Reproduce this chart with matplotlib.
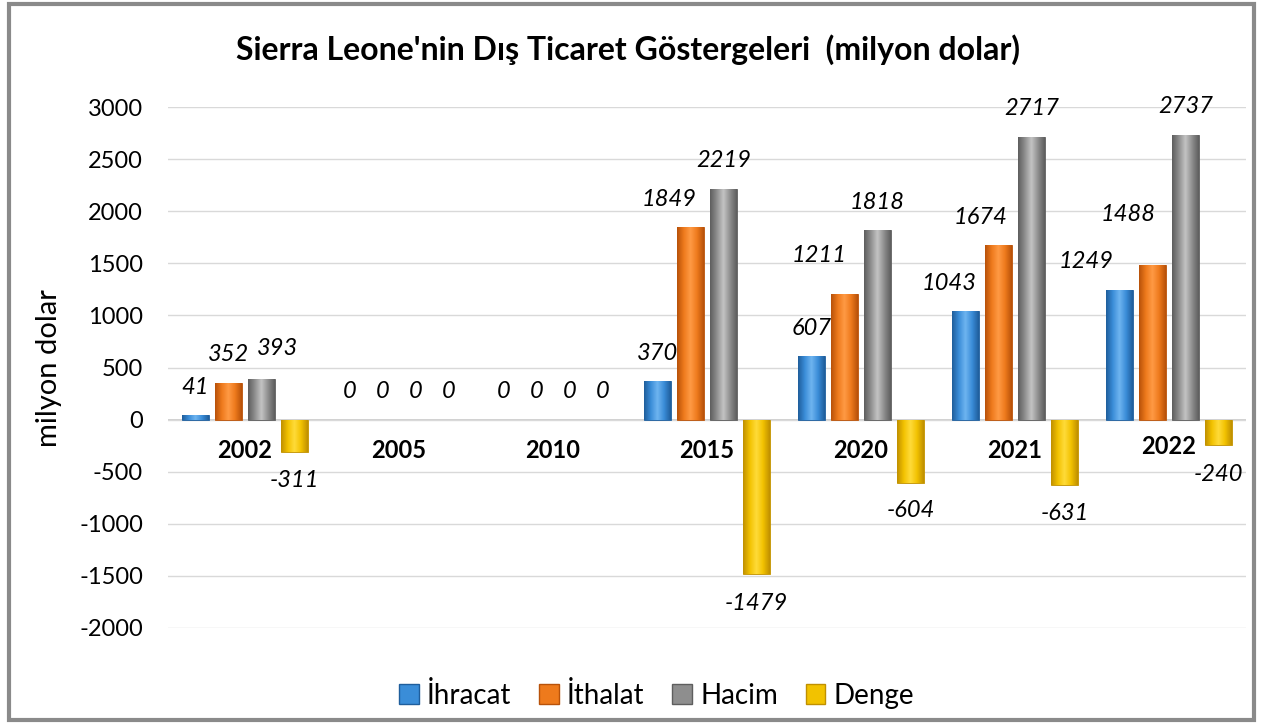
import matplotlib
matplotlib.use("Agg")
import matplotlib.pyplot as plt
import numpy as np
from matplotlib.colors import LinearSegmentedColormap
from matplotlib.patches import Rectangle

plt.rcParams['font.family'] = ['Lato', 'DejaVu Sans']

years = ['2002', '2005', '2010', '2015', '2020', '2021', '2022']
ihracat = [41, 0, 0, 370, 607, 1043, 1249]
ithalat = [352, 0, 0, 1849, 1211, 1674, 1488]
hacim = [393, 0, 0, 2219, 1818, 2717, 2737]
denge = [-311, 0, 0, -1479, -604, -631, -240]
series_names = ['İhracat', 'İthalat', 'Hacim', 'Denge']
yticks = [-2000, -1500, -1000, -500, 0, 500, 1000, 1500, 2000, 2500, 3000]

# label nudges in pixels (layout only), per series per year
label_dx = [
    [0, 0, 0, 0, 0, -16, -33],
    [0, 0, 0, -21, -25, -18, -24],
    [16, 0, 0, 0, 0, 0, 0],
    [0, 0, 0, 0, 0, 0, 0],
]
label_dy = [
    [0, 0, 0, 0, 0, 0, 0],
    [0, 0, 0, 0, 10, 0, 22],
    [2, 0, 0, 0, 0, 0, 0],
    [0, 0, 0, 2, 0, 0, 2],
]
year_dy = [0, 0, 0, 0, 0, 0, 4]

colors = ['#3A8DD8', '#EE7A1C', '#8E8E8E', '#F2C200']
dark = ['#1F5E9C', '#B8520A', '#5E5E5E', '#C09000']
light = ['#6FB5F0', '#FF9A45', '#C4C4C4', '#FFDB3A']

fig = plt.figure(figsize=(12.63, 7.24), dpi=100)
ax = fig.add_axes([0.133, 0.1326, 0.8535, 0.7194])

x = np.arange(len(years))
stride = 0.215
width = 0.175
all_series = [ihracat, ithalat, hacim, denge]

ax.set_xlim(-0.5, len(years) - 0.5)
ax.set_ylim(-2000, 3000)

for k, vals in enumerate(all_series):
    pos = x + (k - 1.5) * stride
    lws = [0.6 if v != 0 else 0 for v in vals]
    bars = ax.bar(pos, vals, width, color=colors[k], edgecolor=dark[k],
                  linewidth=lws, zorder=3, label=series_names[k])
    cmap = LinearSegmentedColormap.from_list('g', [dark[k], colors[k], light[k], colors[k], dark[k]])
    grad = np.linspace(0, 1, 64).reshape(1, -1)
    for b in bars:
        bx, by = b.get_x(), b.get_y()
        bw, bh = b.get_width(), b.get_height()
        if bh == 0:
            continue
        im = ax.imshow(grad, cmap=cmap, extent=(bx, bx + bw, by, by + bh),
                       aspect='auto', zorder=3.5, interpolation='bilinear')
        im.set_clip_path(b)
    for i, (p, v) in enumerate(zip(pos, vals)):
        dx = label_dx[k][i]
        if v >= 0:
            off = (dx, 28 + label_dy[k][i])
        else:
            off = (dx, -28 - label_dy[k][i])
        ax.annotate(f'{v}', (p, v), xytext=off, textcoords='offset pixels',
                    ha='center', va='center', fontsize=17, fontstyle='italic',
                    annotation_clip=False, zorder=5)

ax.set_xlim(-0.5, len(years) - 0.5)
ax.set_ylim(-2000, 3000)

# category labels just below zero
for xi, yr, ydy in zip(x, years, year_dy):
    ax.annotate(yr, (xi, 0), xytext=(0, -31 + ydy), textcoords='offset pixels',
                ha='center', va='center', fontsize=17, fontweight='bold', zorder=5)
ax.set_xticks([])

ax.set_yticks(yticks)
ax.set_yticklabels([str(t) for t in yticks], fontsize=17)
ax.tick_params(axis='y', length=0, pad=18)
ax.grid(axis='y', color='#D9D9D9', linewidth=1.0, zorder=0)
ax.axhline(0, color='#C8C8C8', linewidth=1.2, zorder=1)
for s in ax.spines.values():
    s.set_visible(False)

ax.set_ylabel('milyon dolar', fontsize=21, labelpad=12)

fig.text(0.497, 0.931, "Sierra Leone'nin Dış Ticaret Göstergeleri  (milyon dolar)",
         ha='center', va='center', fontsize=23, fontweight='bold')

handles = [Rectangle((0, 0), 1, 1, facecolor=colors[k], edgecolor=dark[k]) for k in range(4)]
fig.legend(handles, series_names, loc='center', bbox_to_anchor=(0.52, 0.04), ncol=4,
           frameon=False, fontsize=20, handlelength=0.7, handleheight=0.7,
           handletextpad=0.3, columnspacing=1.0)

border = Rectangle((0.007, 0.006), 0.986, 0.988, transform=fig.transFigure,
                   fill=False, edgecolor='#8A8A8A', linewidth=3)
fig.patches.append(border)

fig.savefig('out.png', dpi=100, facecolor='white')
